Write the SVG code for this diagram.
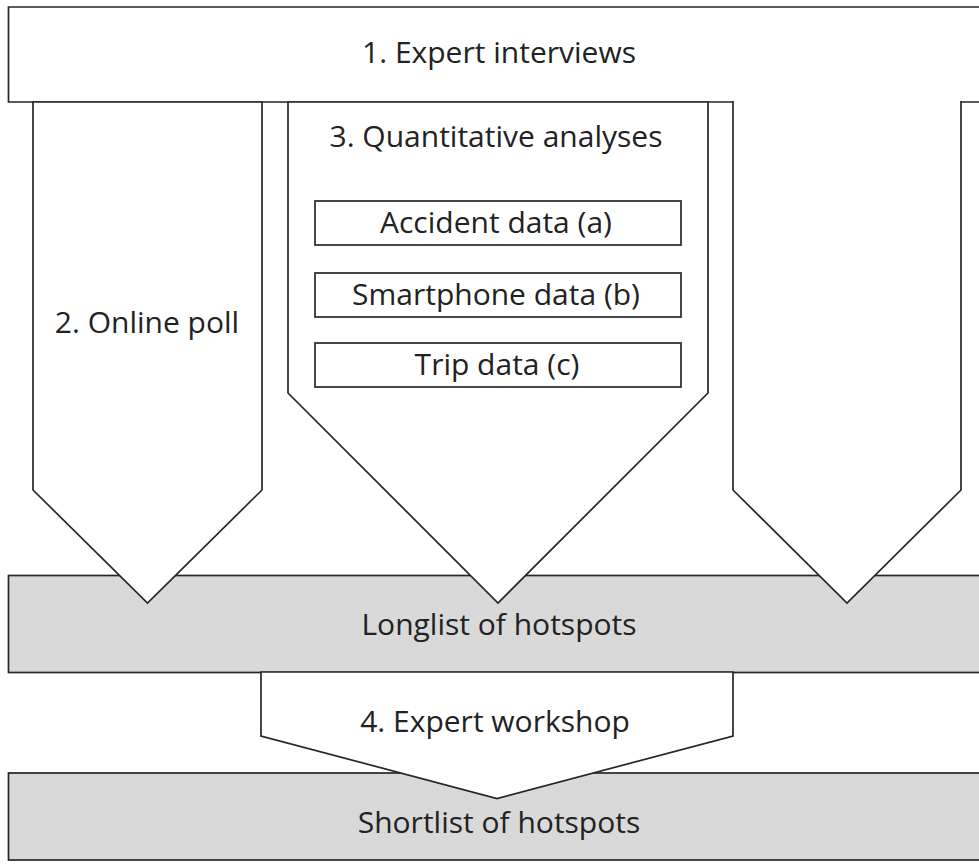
<svg xmlns="http://www.w3.org/2000/svg" width="979" height="865" viewBox="0 0 979 865">
<style>
.ln{stroke:#262626;stroke-width:1.7;stroke-linejoin:miter}
.w{fill:#ffffff}
.g{fill:#d9d9d9}
.t{font-family:"Open Sans","Liberation Sans",sans-serif;font-size:30px;fill:#222222;text-anchor:middle}
.s{font-family:"Open Sans","Liberation Sans",sans-serif;font-size:30px;fill:#222222;text-anchor:middle}
</style>
<rect width="979" height="865" fill="#ffffff"/>
<g id="longlist">
<rect class="g ln" x="8.5" y="575.5" width="980" height="97"/>
<text class="t" x="499" y="635">Longlist of hotspots</text>
</g>
<g id="shortlist">
<rect class="g ln" x="8.5" y="773" width="980" height="87"/>
<text class="t" x="499" y="833">Shortlist of hotspots</text>
</g>
<g id="expert-interviews">
<rect class="w" x="8.5" y="7" width="980" height="95"/>
<path class="ln" fill="none" d="M988,7 H8.5 V102 H733 M961,102 H988"/>
<text class="t" x="499" y="63">1. Expert interviews</text>
</g>
<g id="online-poll">
<polygon class="w ln" points="33,102 262,102 262,490 147.5,603 33,490"/>
<text class="t" x="147" y="333">2. Online poll</text>
</g>
<g id="quantitative">
<polygon class="w ln" points="288,102 708,102 708,393 498,603 288,393"/>
<text class="t" x="496" y="147">3. Quantitative analyses</text>
<g id="accident">
<rect class="w ln" x="315" y="201" width="366" height="44"/>
<text class="s" x="496" y="233">Accident data (a)</text>
</g>
<g id="smartphone">
<rect class="w ln" x="315" y="273" width="366" height="44"/>
<text class="s" x="496" y="305">Smartphone data (b)</text>
</g>
<g id="trip">
<rect class="w ln" x="315" y="343" width="366" height="44"/>
<text class="s" x="497" y="375">Trip data (c)</text>
</g>
</g>
<g id="right-arrow">
<path class="w ln" d="M733,101 V490 L847,603 L961,490 V101"/>
</g>
<g id="expert-workshop">
<polygon class="w ln" points="261,672 733,672 733,736 497,798.5 261,736"/>
<text class="t" x="495" y="732">4. Expert workshop</text>
</g>
<g id="connectors"></g>
</svg>
